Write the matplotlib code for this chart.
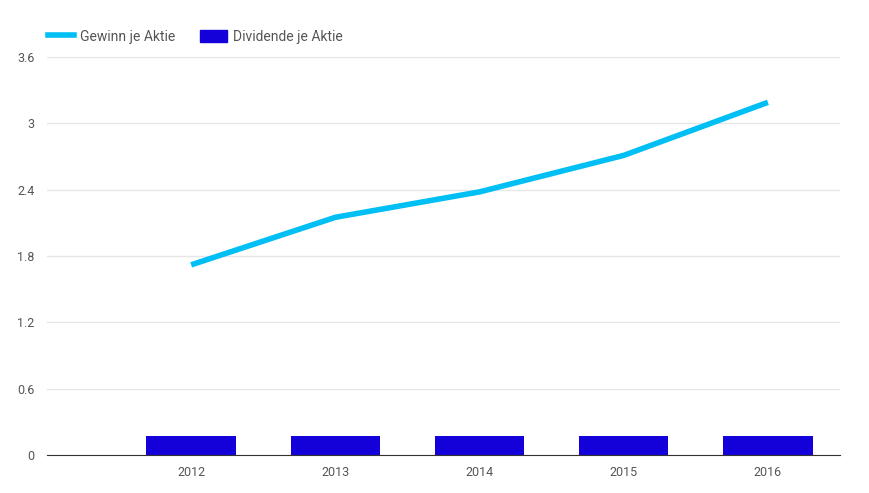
import matplotlib.pyplot as plt
from matplotlib.lines import Line2D
from matplotlib.patches import Patch

jahre = [2012, 2013, 2014, 2015, 2016]
gewinn = [1.72, 2.15, 2.38, 2.71, 3.19]
dividende = [0.17, 0.17, 0.17, 0.17, 0.17]
y_ticks = [0, 0.6, 1.2, 1.8, 2.4, 3, 3.6]
y_labels = ["0", "0.6", "1.2", "1.8", "2.4", "3", "3.6"]

plt.rcParams["font.family"] = ["Roboto", "DejaVu Sans"]

fig = plt.figure(figsize=(8.69, 4.93), dpi=100)
ax = fig.add_axes([47 / 869, 38 / 493, 793 / 869, 398 / 493])

ax.bar(jahre, dividende, width=0.62, color="#1400d9", zorder=2)
ax.plot(jahre, gewinn, color="#00bff5", linewidth=4, solid_capstyle="butt", zorder=3)

ax.set_xlim(2011, 2016.5)
ax.set_ylim(0, 3.6)
ax.set_yticks(y_ticks)
ax.set_yticklabels(y_labels)
ax.set_xticks(jahre)
ax.set_xticklabels([str(j) for j in jahre])
ax.grid(axis="y", color="#e6e6e6", linewidth=1, zorder=0)
ax.tick_params(length=0, labelsize=9, colors="#555555", pad=8)
ax.tick_params(axis="y", pad=9)

for s in ["top", "right", "left"]:
    ax.spines[s].set_visible(False)
ax.spines["bottom"].set_color("#333333")
ax.spines["bottom"].set_zorder(4)

handles = [Line2D([0], [0], color="#00bff5", linewidth=4),
           Patch(color="#1400d9")]
fig.legend(handles, ["Gewinn je Aktie", "Dividende je Aktie"],
           loc="upper left", bbox_to_anchor=(35 / 869, 1 - 17 / 493),
           ncol=2, frameon=False, fontsize=10, labelcolor="#555555",
           handlelength=1.9, handleheight=1.0, columnspacing=1.8,
           handletextpad=0.45)

fig.savefig("out.png", dpi=100)
